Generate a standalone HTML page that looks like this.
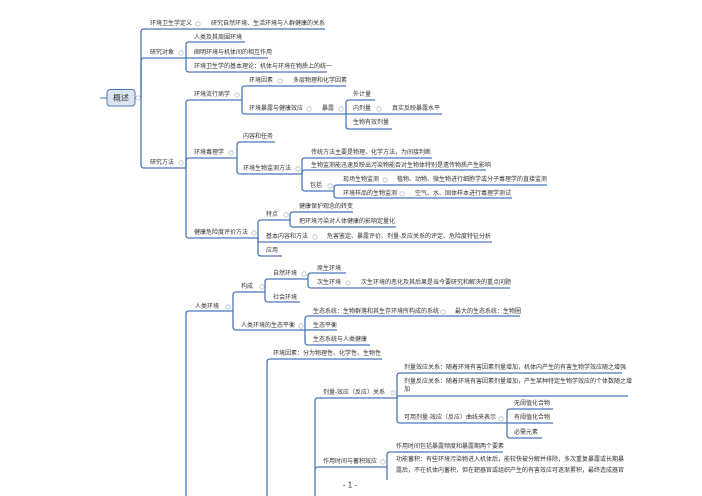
<!DOCTYPE html>
<html><head><meta charset="utf-8"><style>
html,body{margin:0;padding:0;background:#fff;}
svg{display:block;}
text{font-family:"Liberation Sans","Noto Sans CJK SC",sans-serif;font-size:6px;fill:#333;dominant-baseline:central;}
.l{fill:none;stroke:#4a78b5;stroke-width:1;}
.u{fill:none;stroke:#4a78b5;stroke-width:1.3;}
.c{fill:#fff;stroke:#9aa8ba;stroke-width:0.6;}
</style></head><body>
<svg width="702" height="496" viewBox="0 0 702 496" xmlns="http://www.w3.org/2000/svg">
<path class="l" d="M100 98 L107 98"/>
<rect x="107" y="89.5" width="28" height="16.5" rx="3" fill="#dce6f2" stroke="#4a78b5" stroke-width="1"/>
<text x="121" y="98" text-anchor="middle" style="font-size:8px">概述</text>
<path class="l" d="M135 98 L141 98"/>
<path class="u" d="M141 98 L141 32 Q141 29 144 29 L325 29"/>
<path class="u" d="M141 98 L141 61 Q141 58 144 58 L186 58"/>
<path class="u" d="M141 98 L141 165 Q141 168 144 168 L186 168"/>
<text x="150" y="24">环境卫生学定义</text>
<text x="211" y="24">研究自然环境、生活环境与人群健康的关系</text>
<text x="150" y="53">研究对象</text>
<text x="150" y="163">研究方法</text>
<path class="u" d="M186 58 L186 45 Q186 42 189 42 L245 42"/>
<path class="u" d="M186 58 L268 58"/>
<path class="u" d="M186 58 L186 69 Q186 72 189 72 L327 72"/>
<text x="194" y="38">人类及其周围环境</text>
<text x="194" y="53">阐明环境与机体间的相互作用</text>
<text x="194" y="67">环境卫生学的基本理论：机体与环境在物质上的统一</text>
<path class="u" d="M186 168 L186 103 Q186 100 189 100 L242 100"/>
<path class="u" d="M186 168 L186 161 Q186 158 189 158 L237 158"/>
<path class="u" d="M186 168 L186 235 Q186 238 189 238 L258 238"/>
<text x="194" y="95">环境流行病学</text>
<text x="194" y="153">环境毒理学</text>
<text x="194" y="233">健康危险度评价方法</text>
<path class="u" d="M242 100 L242 89 Q242 86 245 86 L346 86"/>
<path class="u" d="M242 100 L242 111 Q242 114 245 114 L346 114"/>
<text x="249" y="81">环境因素</text>
<text x="293" y="81">多层物理和化学因素</text>
<text x="249" y="109">环境暴露与健康效应</text>
<text x="322" y="109">暴露</text>
<path class="u" d="M346 114 L346 103 Q346 100 349 100 L375 100"/>
<path class="u" d="M346 114 L442 114"/>
<path class="u" d="M346 114 L346 126 Q346 129 349 129 L392 129"/>
<text x="353" y="95">外计量</text>
<text x="353" y="109">内剂量</text>
<text x="392" y="109">真实反映暴露水平</text>
<text x="353" y="123">生物有效剂量</text>
<path class="u" d="M237 158 L237 145 Q237 142 240 142 L275 142"/>
<path class="u" d="M237 158 L237 171 Q237 174 240 174 L302 174"/>
<text x="243" y="137">内容和任务</text>
<text x="243" y="169">环境生物监测方法</text>
<path class="u" d="M302 174 L302 161 Q302 158 305 158 L432 158"/>
<path class="u" d="M302 174 L302 173 Q302 170 305 170 L486 170"/>
<path class="u" d="M302 174 L302 188 Q302 191 305 191 L334 191"/>
<text x="311" y="153">传统方法主要是物理、化学方法，为间接判断</text>
<text x="311" y="166">生物监测能迅速反映出污染物能否对生物体特别是遗传物质产生影响</text>
<text x="310" y="186">包括</text>
<path class="u" d="M334 191 L334 188 Q334 185 337 185 L547 185"/>
<path class="u" d="M334 191 L334 195 Q334 198 337 198 L512 198"/>
<text x="343" y="180">现场生物监测</text>
<text x="397" y="180">植物、动物、微生物进行细胞学或分子毒理学的直接监测</text>
<text x="343" y="194">环境样品的生物监测</text>
<text x="415" y="194">空气、水、固体样本进行毒理学测试</text>
<path class="u" d="M258 238 L258 223 Q258 220 261 220 L290 220"/>
<path class="u" d="M258 238 L258 242 L492 242"/>
<path class="u" d="M258 238 L258 253 Q258 256 261 256 L282 256"/>
<text x="266" y="215">特点</text>
<text x="266" y="237">基本内容和方法</text>
<text x="327" y="237">危害鉴定、暴露评价、剂量-反应关系的评定、危险度特征分析</text>
<text x="266" y="251">应用</text>
<path class="u" d="M290 220 L290 215 Q290 212 293 212 L353 212"/>
<path class="u" d="M290 220 L290 224 Q290 227 293 227 L396 227"/>
<text x="299" y="207">健康保护观念的转变</text>
<text x="299" y="222">把环境污染对人体健康的影响定量化</text>
<path class="u" d="M186 496 L186 314 Q186 311 189 311 L233 311"/>
<text x="195" y="307">人类环境</text>
<path class="u" d="M233 311 L233 295 Q233 292 236 292 L265 292"/>
<path class="u" d="M233 311 L233 327 Q233 330 236 330 L305 330"/>
<text x="241" y="287">构成</text>
<text x="241" y="326">人类环境的生态平衡</text>
<path class="u" d="M265 292 L265 282 Q265 279 268 279 L308 279"/>
<path class="u" d="M265 292 L265 299 Q265 302 268 302 L300 302"/>
<text x="273" y="274">自然环境</text>
<text x="273" y="298">社会环境</text>
<path class="u" d="M308 279 L308 276 Q308 273 311 273 L346 273"/>
<path class="u" d="M308 279 L308 285 Q308 288 311 288 L510 288"/>
<text x="317" y="269">原生环境</text>
<text x="317" y="283">次生环境</text>
<text x="361" y="283">次生环境的恶化及其后果是当今要研究和解决的重点问题</text>
<path class="u" d="M305 330 L305 319 Q305 316 308 316 L520 316"/>
<path class="u" d="M305 330 L337 330"/>
<path class="u" d="M305 330 L305 342 Q305 345 308 345 L370 345"/>
<text x="313" y="312">生态系统：生物群落和其生存环境所构成的系统</text>
<text x="455" y="312">最大的生态系统：生物圈</text>
<text x="313" y="326">生态平衡</text>
<text x="313" y="340">生态系统与人类健康</text>
<path class="u" d="M267 496 L267 362 Q267 359 270 359 L382 359"/>
<text x="273" y="354">环境因素：分为物理性、化学性、生物性</text>
<path class="u" d="M315 496 L315 401 Q315 398 318 398 L397 398"/>
<path class="u" d="M315 470 Q315 467 318 467 L387 467"/>
<text x="323" y="393">剂量-效应（反应）关系</text>
<text x="323" y="462">作用时间与蓄积效应</text>
<path class="u" d="M397 398 L397 376 Q397 373 400 373 L622 373"/>
<path class="u" d="M397 398 L397 396 L628 396"/>
<path class="u" d="M397 398 L397 420 Q397 423 400 423 L507 423"/>
<text x="404" y="368">剂量效应关系：随着环境有害因素剂量增加，机体内产生的有害生物学效应随之增强</text>
<text x="404" y="382">剂量反应关系：随着环境有害因素剂量增加，产生某种特定生物学效应的个体数随之增</text>
<text x="404" y="390">加</text>
<text x="404" y="418">可用剂量-效应（反应）曲线来表示</text>
<path class="u" d="M507 423 L507 412 Q507 409 510 409 L553 409"/>
<path class="u" d="M507 423 L553 423"/>
<path class="u" d="M507 423 L507 435 Q507 438 510 438 L542 438"/>
<text x="514" y="404">无阈值化合物</text>
<text x="514" y="418">有阈值化合物</text>
<text x="514" y="433">必需元素</text>
<path class="u" d="M387 467 L387 455 Q387 452 390 452 L503 452"/>
<path class="u" d="M387 467 L387 480"/>
<text x="396" y="447">作用时间包括暴露频度和暴露期两个要素</text>
<text x="396" y="460">功能蓄积：有些环境污染物进入机体后，能较快被分解并排除，多次重复暴露或长期暴</text>
<text x="396" y="471">露后，不在机体内蓄积，但在靶器官或组织产生的有害效应可逐渐累积，最终造成器官</text>
<text x="350" y="485" text-anchor="middle" style="font-size:8px">- 1 -</text>
<g class="c">
<circle cx="138" cy="98" r="2.2"/>
<circle cx="198" cy="24" r="2.2"/><circle cx="181" cy="53" r="2.2"/><circle cx="181" cy="163" r="2.2"/>
<circle cx="237" cy="95" r="2.2"/><circle cx="280" cy="81" r="2.2"/><circle cx="309" cy="109" r="2.2"/>
<circle cx="341" cy="109" r="2.2"/><circle cx="379" cy="109" r="2.2"/><circle cx="231" cy="153" r="2.2"/>
<circle cx="298" cy="169" r="2.2"/><circle cx="330" cy="186" r="2.2"/><circle cx="385" cy="180" r="2.2"/>
<circle cx="402" cy="194" r="2.2"/><circle cx="254" cy="233" r="2.2"/><circle cx="286" cy="215" r="2.2"/>
<circle cx="315" cy="237" r="2.2"/><circle cx="228" cy="307" r="2.2"/><circle cx="262" cy="287" r="2.2"/>
<circle cx="304" cy="274" r="2.2"/><circle cx="348" cy="283" r="2.2"/><circle cx="443" cy="312" r="2.2"/>
<circle cx="301" cy="326" r="2.2"/><circle cx="393" cy="393" r="2.2"/><circle cx="501" cy="419" r="2.2"/>
<circle cx="383" cy="462" r="2.2"/>
</g>
</svg>
</body></html>
